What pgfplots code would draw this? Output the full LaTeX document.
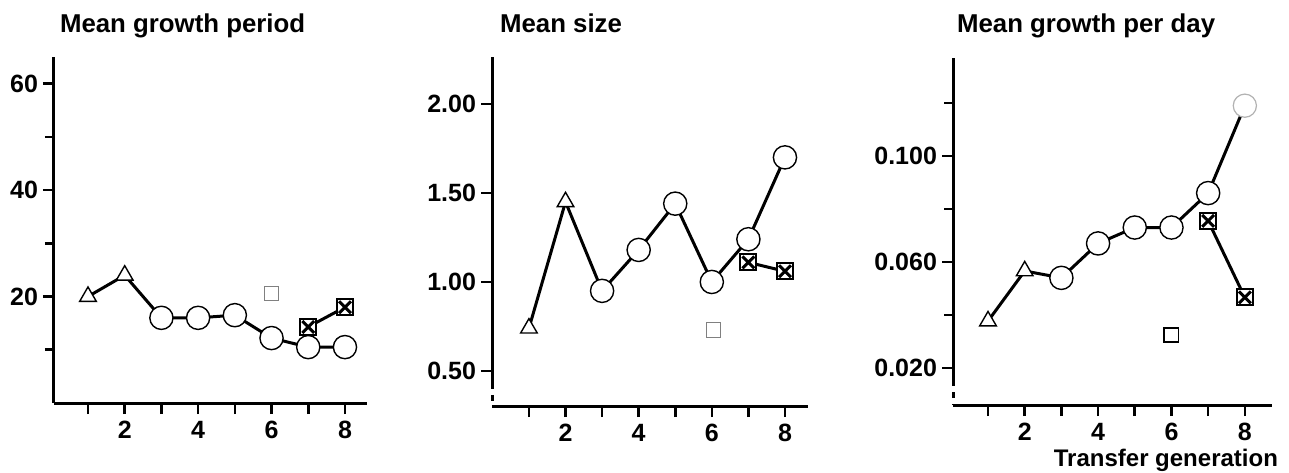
\documentclass[border=0pt]{standalone}
\usepackage{pgfplots}
\pgfplotsset{compat=1.18}
\usepackage{fontspec}
\setmainfont{Liberation Sans}

\pgfplotsset{
 panel/.style={
  scale only axis, axis lines=left, axis line style={-, line width=1.5pt},
  tick align=outside, major tick length=5.5pt, minor tick length=4.5pt,
  every tick/.style={black, line width=1.3pt},
  xtick={1,...,8}, xticklabels={,2,,4,,6,,8},
  tick label style={font=\fontsize{12.5}{14}\selectfont\bfseries},
  yticklabel style={xshift=1pt},
  /pgf/number format/assume math mode=true,
  clip=false,
 },
 ln/.style={black, line width=1.5pt, mark=none},
 tri/.style={only marks, mark=triangle*, mark size=4.8pt, mark options={fill=white, draw=black, line width=0.7pt}},
 circ/.style={only marks, mark=*, mark size=5.8pt, mark options={fill=white, draw=black, line width=0.7pt}},
 sqx/.style={only marks, mark=square*, mark size=4pt, mark options={fill=white, draw=black, line width=1pt}},
 xx/.style={only marks, mark=x, mark size=4.2pt, mark options={draw=black, line width=1.5pt}},
 opensq/.style={only marks, mark=square, mark size=3.6pt, mark options={draw=gray, line width=0.6pt}},
}
\newcommand{\ttl}{\fontsize{12.9}{14}\selectfont\bfseries}

\begin{document}
\begin{tikzpicture}
\path[use as bounding box] (0,0) rectangle (644.5pt,236pt);

% Panel 1: Mean growth period
\begin{axis}[panel, at={(27pt,34.5pt)}, anchor=south west,
  width=156.5pt, height=173pt,
  xmin=0.074, xmax=8.6, ymin=0, ymax=65,
  ytick={20,40,60}, minor ytick={10,30,50}]
\addplot[ln] coordinates {(1,20)(2,24)(3,16)(4,16)(5,16.5)(6,12.2)(7,10.5)(8,10.5)};
\addplot[ln] coordinates {(7,14.3)(8,18)};
\addplot[tri] coordinates {(1,20)(2,24)};
\addplot[circ] coordinates {(3,16)(4,16)(5,16.5)(6,12.2)(7,10.5)(8,10.5)};
\addplot[sqx] coordinates {(7,14.3)(8,18)};
\addplot[xx] coordinates {(7,14.3)(8,18)};
\addplot[opensq] coordinates {(6,20.6)};
\end{axis}

% Panel 2: Mean size
\begin{axis}[panel, at={(246pt,33pt)}, anchor=south west,
  width=158pt, height=174.5pt,
  xmin=-0.01, xmax=8.63, ymin=0.303, ymax=2.264,
  ytick={0.5,1,1.5,2},
  yticklabel style={/pgf/number format/.cd, fixed, fixed zerofill, precision=2},
  y axis line style={draw=none}]
\draw[line width=1.5pt] (rel axis cs:0,1) -- (rel axis cs:0,0.066);
\draw[line width=1.5pt, dash pattern=on 3pt off 3pt] (rel axis cs:0,0.066) -- (rel axis cs:0,0);
\addplot[ln] coordinates {(1,0.74)(2,1.45)(3,0.95)(4,1.18)(5,1.44)(6,1.00)(7,1.24)(8,1.70)};
\addplot[ln] coordinates {(7,1.11)(8,1.06)};
\addplot[tri] coordinates {(1,0.74)(2,1.45)};
\addplot[circ] coordinates {(3,0.95)(4,1.18)(5,1.44)(6,1.00)(7,1.24)(8,1.70)};
\addplot[sqx] coordinates {(7,1.11)(8,1.06)};
\addplot[xx] coordinates {(7,1.11)(8,1.06)};
\addplot[opensq] coordinates {(6.05,0.73)};
\end{axis}

% Panel 3: Mean growth per day
\begin{axis}[panel, at={(476.5pt,33.5pt)}, anchor=south west,
  width=159.5pt, height=173.5pt,
  xmin=0.046, xmax=8.74, ymin=0.006, ymax=0.137,
  ytick={0.02,0.06,0.1}, minor ytick={0.04,0.08,0.12},
  yticklabel style={/pgf/number format/.cd, fixed, fixed zerofill, precision=3},
  y axis line style={draw=none}]
\draw[line width=1.5pt] (rel axis cs:0,1) -- (rel axis cs:0,0.072);
\draw[line width=1.5pt, dash pattern=on 3pt off 3pt] (rel axis cs:0,0.072) -- (rel axis cs:0,0);
\addplot[ln] coordinates {(1,0.0377)(2,0.0566)(3,0.054)(4,0.067)(5,0.073)(6,0.073)(7,0.086)(8,0.119)};
\addplot[ln] coordinates {(7,0.0755)(8,0.0466)};
\addplot[tri] coordinates {(1,0.0377)(2,0.0566)};
\addplot[circ] coordinates {(3,0.054)(4,0.067)(5,0.073)(6,0.073)(7,0.086)};
\addplot[circ, mark options={fill=white, draw=gray!60, line width=0.6pt}] coordinates {(8,0.119)};
\addplot[sqx] coordinates {(7,0.0755)(8,0.0466)};
\addplot[xx] coordinates {(7,0.0755)(8,0.0466)};
\addplot[opensq, mark options={draw=black, line width=0.8pt}] coordinates {(6,0.0324)};
\end{axis}

\node[anchor=base west, font=\ttl] at (26.5pt,219.5pt) {Mean growth period};
\node[anchor=base west, font=\ttl] at (246.5pt,219.5pt) {Mean size};
\node[anchor=base west, font=\ttl] at (475pt,219.5pt) {Mean growth per day};
\node[anchor=base east, font=\fontsize{12}{14}\selectfont\bfseries] at (642.5pt,3pt) {Transfer generation};
\end{tikzpicture}
\end{document}
